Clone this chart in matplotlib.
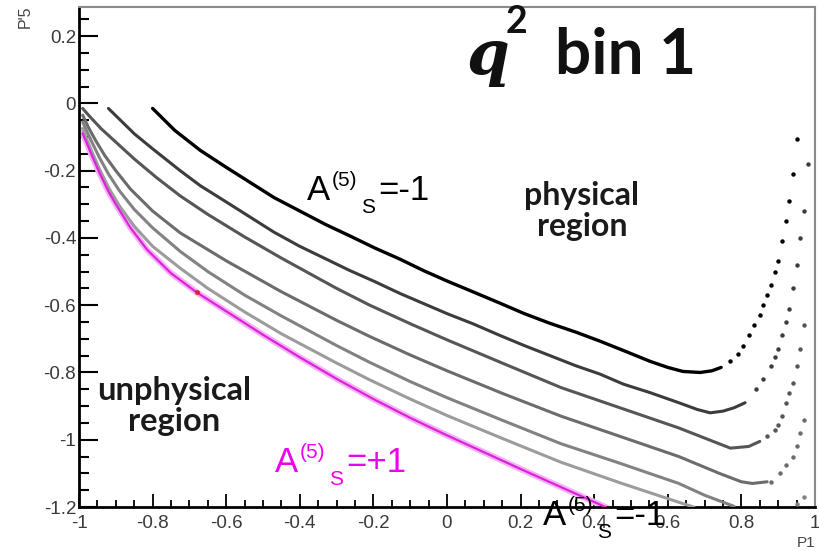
import matplotlib.pyplot as plt
from matplotlib.ticker import MultipleLocator

# boundary curves in the (P1, P'5) plane, one per A5s value (black = -1 ... magenta = +1)
c1_x = [-0.80, -0.74, -0.67, -0.60, -0.535, -0.47, -0.40, -0.33, -0.264, -0.196, -0.128, -0.064, 0.00,
        0.07, 0.144, 0.21, 0.28, 0.35, 0.416, 0.48, 0.552, 0.60, 0.641, 0.688, 0.72, 0.745]
c1_y = [-0.015, -0.08, -0.14, -0.19, -0.235, -0.28, -0.32, -0.36, -0.394, -0.43, -0.463, -0.497, -0.528,
        -0.56, -0.594, -0.625, -0.654, -0.68, -0.707, -0.735, -0.767, -0.785, -0.797, -0.80, -0.795, -0.785]
c1_dx = [0.77, 0.79, 0.805, 0.82, 0.835, 0.85, 0.86, 0.87, 0.88, 0.89, 0.90, 0.91, 0.92, 0.93, 0.94, 0.95]
c1_dy = [-0.765, -0.745, -0.72, -0.69, -0.66, -0.63, -0.60, -0.57, -0.54, -0.50, -0.47, -0.41, -0.35, -0.29, -0.21, -0.105]

c2_x = [-0.92, -0.85, -0.80, -0.725, -0.67, -0.60, -0.535, -0.47, -0.40, -0.33, -0.264, -0.196, -0.128,
        -0.064, 0.00, 0.07, 0.144, 0.21, 0.28, 0.35, 0.416, 0.48, 0.552, 0.63, 0.68, 0.715, 0.75, 0.78, 0.81]
c2_y = [-0.015, -0.09, -0.135, -0.20, -0.245, -0.293, -0.338, -0.383, -0.425, -0.462, -0.497, -0.53, -0.565,
        -0.595, -0.625, -0.655, -0.69, -0.72, -0.75, -0.78, -0.805, -0.835, -0.86, -0.89, -0.91, -0.92,
        -0.915, -0.905, -0.89]
c2_dx = [0.84, 0.86, 0.88, 0.89, 0.90, 0.91, 0.92, 0.93, 0.94, 0.95, 0.96, 0.97, 0.98]
c2_dy = [-0.85, -0.82, -0.78, -0.755, -0.73, -0.69, -0.65, -0.61, -0.55, -0.48, -0.40, -0.32, -0.18]

c3_x = [-0.99, -0.97, -0.94, -0.90, -0.85, -0.79, -0.725, -0.65, -0.55, -0.45, -0.30, -0.21, -0.10, 0.00,
        0.15, 0.31, 0.47, 0.63, 0.70, 0.77, 0.82, 0.85]
c3_y = [-0.015, -0.04, -0.075, -0.115, -0.165, -0.22, -0.275, -0.33, -0.397, -0.46, -0.55, -0.60, -0.655,
        -0.703, -0.772, -0.845, -0.905, -0.965, -0.995, -1.025, -1.02, -1.005]
c3_dx = [0.87, 0.89, 0.90, 0.91, 0.92, 0.93, 0.94, 0.95, 0.96, 0.97]
c3_dy = [-0.99, -0.97, -0.955, -0.93, -0.89, -0.86, -0.83, -0.78, -0.73, -0.66]

c4_x = [-0.99, -0.975, -0.955, -0.93, -0.90, -0.86, -0.80, -0.725, -0.60, -0.45, -0.30, -0.21, -0.10, 0.00,
        0.15, 0.31, 0.47, 0.63, 0.74, 0.80, 0.83, 0.87]
c4_y = [-0.035, -0.07, -0.11, -0.155, -0.20, -0.255, -0.32, -0.385, -0.468, -0.56, -0.645, -0.693, -0.748,
        -0.795, -0.862, -0.93, -0.99, -1.05, -1.10, -1.125, -1.13, -1.125]
c4_dx = [0.88, 0.905, 0.92, 0.94, 0.95, 0.96, 0.97]
c4_dy = [-1.125, -1.10, -1.075, -1.05, -1.02, -0.98, -0.94]

c5_x = [-0.99, -0.98, -0.965, -0.945, -0.92, -0.89, -0.85, -0.80, -0.725, -0.65, -0.55, -0.45, -0.30, -0.21,
        -0.10, 0.00, 0.15, 0.31, 0.47, 0.63, 0.70, 0.78]
c5_y = [-0.055, -0.08, -0.115, -0.16, -0.21, -0.26, -0.315, -0.37, -0.44, -0.50, -0.57, -0.632, -0.72, -0.77,
        -0.827, -0.875, -0.942, -1.012, -1.07, -1.13, -1.165, -1.198]
c5_dx = [0.95, 0.97]
c5_dy = [-1.19, -1.17]

c6_x = [-0.99, -0.98, -0.965, -0.945, -0.92, -0.89, -0.85, -0.80, -0.725, -0.65, -0.55, -0.45, -0.30, -0.21,
        -0.10, 0.00, 0.15, 0.31, 0.47, 0.63, 0.67]
c6_y = [-0.075, -0.105, -0.145, -0.195, -0.25, -0.305, -0.365, -0.425, -0.49, -0.55, -0.62, -0.685, -0.772,
        -0.822, -0.879, -0.928, -0.996, -1.067, -1.128, -1.186, -1.20]

mag_x = [-0.99, -0.98, -0.965, -0.945, -0.92, -0.90, -0.86, -0.815, -0.75, -0.68, -0.60, -0.50, -0.40, -0.30,
         -0.20, -0.10, 0.00, 0.10, 0.20, 0.31, 0.42, 0.43]
mag_y = [-0.09, -0.115, -0.155, -0.205, -0.262, -0.30, -0.37, -0.435, -0.505, -0.562, -0.618, -0.688, -0.755,
         -0.819, -0.879, -0.935, -0.987, -1.037, -1.087, -1.141, -1.195, -1.20]

red_x = [-0.68]
red_y = [-0.56]

xtick_vals = [-1, -0.8, -0.6, -0.4, -0.2, 0, 0.2, 0.4, 0.6, 0.8, 1]
xtick_labels = ['-1', '-0.8', '-0.6', '-0.4', '-0.2', '0', '0.2', '0.4', '0.6', '0.8', '1']
ytick_vals = [-1.2, -1, -0.8, -0.6, -0.4, -0.2, 0, 0.2]
ytick_labels = ['-1.2', '-1', '-0.8', '-0.6', '-0.4', '-0.2', '0', '0.2']

plt.rcParams['font.family'] = ['Liberation Sans', 'DejaVu Sans']

W, H = 819, 551
fig = plt.figure(figsize=(W / 100, H / 100), dpi=100)
ax = fig.add_axes([79 / W, 44 / H, (815 - 79) / W, (544 - 44) / H])


def px(x, y):
    return x / W, 1 - y / H


def a5_label(x0, base, value, color):
    # A^(5)_S = value, built from pieces like the original slide
    fig.text(*px(x0, base), 'A', fontsize=25, color=color, va='baseline')
    fig.text(*px(x0 + 25, base - 14), '(5)', fontsize=15, color=color, va='baseline')
    fig.text(*px(x0 + 54, base + 13), 'S', fontsize=15, color=color, va='baseline')
    fig.text(*px(x0 + 71, base), '=' + value, fontsize=25, color=color, va='baseline')


curves = [
    (c1_x, c1_y, c1_dx, c1_dy, '#000000', 2.4),
    (c2_x, c2_y, c2_dx, c2_dy, '#3c3c3c', 2.2),
    (c3_x, c3_y, c3_dx, c3_dy, '#565656', 2.2),
    (c4_x, c4_y, c4_dx, c4_dy, '#6c6c6c', 2.2),
    (c5_x, c5_y, c5_dx, c5_dy, '#828282', 2.2),
]
for x, y, dx, dy, col, lw in curves:
    ax.plot(x, y, color=col, lw=lw, solid_capstyle='round', solid_joinstyle='round', zorder=3)
    ax.plot(dx, dy, ls='none', marker='o', ms=3.2, color=col, mec='none', zorder=3)
ax.plot(c6_x, c6_y, color='#9c9c9c', lw=2.2, solid_joinstyle='round', zorder=3)

ax.plot(mag_x, mag_y, color='#f3b4f3', lw=4.5, solid_joinstyle='round', zorder=2)
ax.plot(mag_x, mag_y, color='#dd22dd', lw=1.6, solid_joinstyle='round', zorder=3)
ax.plot(red_x, red_y, ls='none', marker='o', ms=3.5, color='#e0203a', mec='none', zorder=4)

ax.set_xlim(-1, 1)
ax.set_ylim(-1.2, 0.2866)
ax.set_xticks(xtick_vals)
ax.set_xticklabels(xtick_labels)
ax.set_yticks(ytick_vals)
ax.set_yticklabels(ytick_labels)
ax.xaxis.set_minor_locator(MultipleLocator(0.05))
ax.yaxis.set_minor_locator(MultipleLocator(0.05))
ax.tick_params(axis='y', which='major', direction='in', length=14, width=1.5, pad=2,
               labelsize=13.5, labelcolor='#3a3a3a')
ax.tick_params(axis='y', which='minor', direction='in', length=7, width=1.5)
ax.tick_params(axis='x', which='major', direction='in', length=9.5, width=1.3, pad=6,
               labelsize=13.5, labelcolor='#3a3a3a')
ax.tick_params(axis='x', which='minor', direction='in', length=5, width=1.3)
for s in ['left', 'bottom']:
    ax.spines[s].set_linewidth(2)
    ax.spines[s].set_color('black')
for s in ['top', 'right']:
    ax.spines[s].set_linewidth(1.5)
    ax.spines[s].set_color('#8a8a8a')

fig.text(*px(25, 6), "P'5", rotation=90, ha='center', va='top', fontsize=11.5, color='#444444')
fig.text(*px(815, 550), 'P1', ha='right', va='bottom', fontsize=11, color='#444444')

# title q^2 bin 1
fig.text(*px(466, 74), 'q', fontsize=44, fontweight='bold', fontstyle='italic',
         family='DejaVu Serif', color='#111111', va='baseline')
fig.text(*px(506, 33), '2', fontsize=27, fontweight='bold', family='Lato', color='#111111', va='baseline')
fig.text(*px(555, 74), 'bin 1', fontsize=46, fontweight='bold', family='Lato',
         color='#111111', va='baseline')

fig.text(*px(582, 211), 'physical\nregion', fontsize=23, fontweight='bold', family='Lato',
         color='#1a1a1a', ha='center', va='center', linespacing=1.1)
fig.text(*px(174, 406), 'unphysical\nregion', fontsize=23.5, fontweight='bold', family='Lato',
         color='#1a1a1a', ha='center', va='center', linespacing=1.1)

a5_label(307, 200, '-1', 'black')
a5_label(275, 472, '+1', '#ee00ee')
a5_label(543, 525, '-1', 'black')

fig.savefig('out.png', dpi=100)
